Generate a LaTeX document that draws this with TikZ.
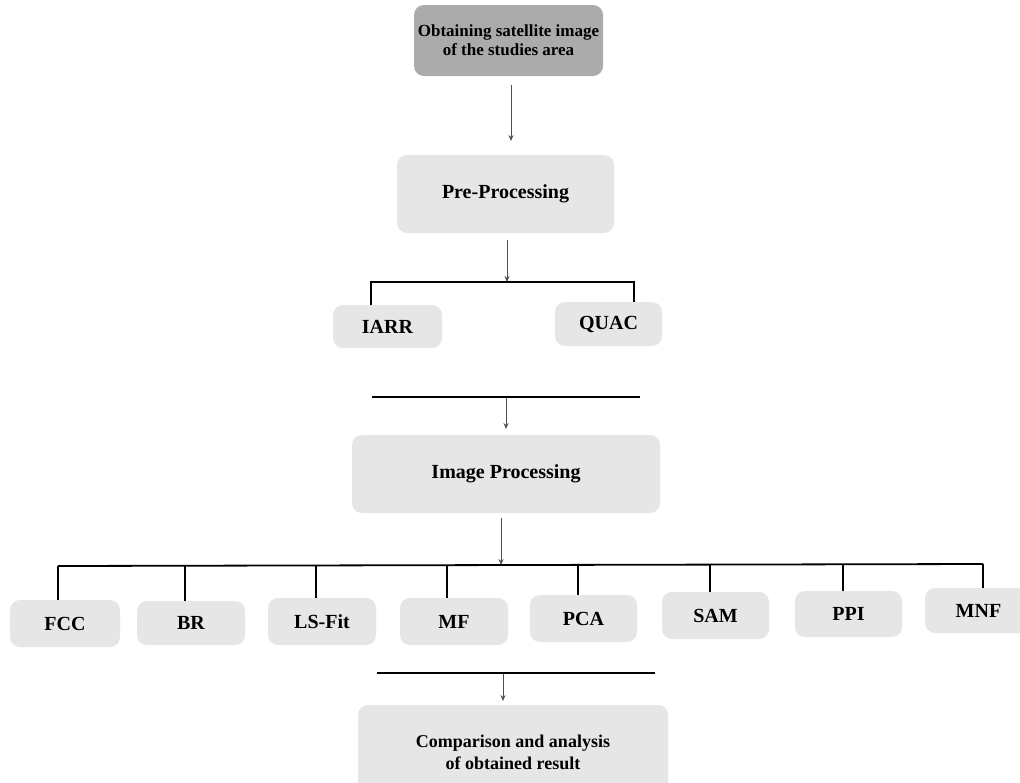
\documentclass[tikz,border=0pt]{standalone}
\usepackage{fontspec}
\setmainfont{Liberation Serif}
\usetikzlibrary{arrows.meta}
\definecolor{darkbox}{HTML}{ABABAB}
\definecolor{lightbox}{HTML}{E6E6E6}
\definecolor{arrowgray}{HTML}{505050}
\tikzset{
  box/.style={fill=lightbox, draw=none, rounded corners=10pt, align=center, font=\bfseries\fontsize{20}{22}\selectfont, inner sep=0pt},
  topbox/.style={box, fill=darkbox, font=\bfseries\fontsize{17}{19}\selectfont},
  smallbox/.style={box, font=\bfseries\fontsize{20}{22}\selectfont},
  flow/.style={draw=arrowgray, line width=0.8pt, -{Stealth[length=6pt,width=5pt]}},
  bar/.style={draw=black, line width=1.8pt}
}
\begin{document}
\begin{tikzpicture}[x=1pt,y=-1pt]
\clip (0,0) rectangle (1020,782);
\fill[white] (0,0) rectangle (1020,782);
% main boxes
\node[topbox, minimum width=189pt, minimum height=71pt] (obt) at (508.5,40.5) {Obtaining satellite image\\of the studies area};
\node[box, minimum width=217pt, minimum height=78pt] (pre) at (505.5,194) {Pre-Processing};
\node[smallbox, minimum width=109pt, minimum height=43pt] (iarr) at (387.5,326.5) {IARR};
\node[smallbox, minimum width=107pt, minimum height=44pt] (quac) at (608.5,324) {QUAC};
\node[box, minimum width=308pt, minimum height=78pt] (img) at (506,474) {Image Processing};
% method boxes
\node[smallbox, minimum width=110pt, minimum height=47pt] (fcc) at (65,623.5) {FCC};
\node[smallbox, minimum width=108pt, minimum height=44pt] (br) at (191,623) {BR};
\node[smallbox, minimum width=108pt, minimum height=47pt] (ls) at (322,621.5) {LS-Fit};
\node[smallbox, minimum width=108pt, minimum height=47pt] (mf) at (454,621.5) {MF};
\node[smallbox, minimum width=107pt, minimum height=47pt] (pca) at (583.5,618.5) {PCA};
\node[smallbox, minimum width=107pt, minimum height=47pt] (sam) at (715.5,615.5) {SAM};
\node[smallbox, minimum width=107pt, minimum height=46pt] (ppi) at (848.5,614) {PPI};
\node[smallbox, minimum width=107pt, minimum height=45pt] (mnf) at (978.5,610.5) {MNF};
\node[box, minimum width=310pt, minimum height=90pt] (cmp) at (513,750) {};
\node[font=\bfseries\fontsize{18}{22}\selectfont, align=center, inner sep=0pt] (cmptext) at (513,752) {Comparison and analysis\\of obtained result};
% connector coordinates
\coordinate (a1s) at (511,85);
\coordinate (a1e) at (511,141);
\coordinate (a2s) at (507,240);
\coordinate (a2e) at (507,282);
\coordinate (b1l) at (371,282);
\coordinate (b1r) at (634,282);
\coordinate (b2l) at (372,397);
\coordinate (b2r) at (640,397);
\coordinate (a3s) at (506,397);
\coordinate (a3e) at (506,429);
\coordinate (a4s) at (501,518);
\coordinate (a4e) at (501,565);
\coordinate (b3l) at (58,566);
\coordinate (b3r) at (983,564);
\coordinate (b4l) at (377,673);
\coordinate (b4r) at (655,673);
\coordinate (a5s) at (503,673);
\coordinate (a5e) at (503,701);
% arrows
\draw[flow] (a1s) -- (a1e);
\draw[flow] (a2s) -- (a2e);
\draw[flow] (a3s) -- (a3e);
\draw[flow] (a4s) -- (a4e);
\draw[flow] (a5s) -- (a5e);
% bracket 1
\draw[bar] (iarr.north -| b1l) -- (b1l) -- (b1r) -- (quac.north -| b1r);
% bar 2
\draw[bar] (b2l) -- (b2r);
% bracket 3
\draw[bar] (b3l) -- (b3r);
\draw[bar] (58,566) -- (fcc.north -| 58,0);
\draw[bar] (185,566) -- (br.north -| 185,0);
\draw[bar] (316,566) -- (ls.north -| 316,0);
\draw[bar] (447,565.5) -- (mf.north -| 447,0);
\draw[bar] (578,565) -- (pca.north -| 578,0);
\draw[bar] (710,565) -- (sam.north -| 710,0);
\draw[bar] (843,564.5) -- (ppi.north -| 843,0);
\draw[bar] (983,564) -- (mnf.north -| 983,0);
% bar 4
\draw[bar] (b4l) -- (b4r);
\end{tikzpicture}
\end{document}
